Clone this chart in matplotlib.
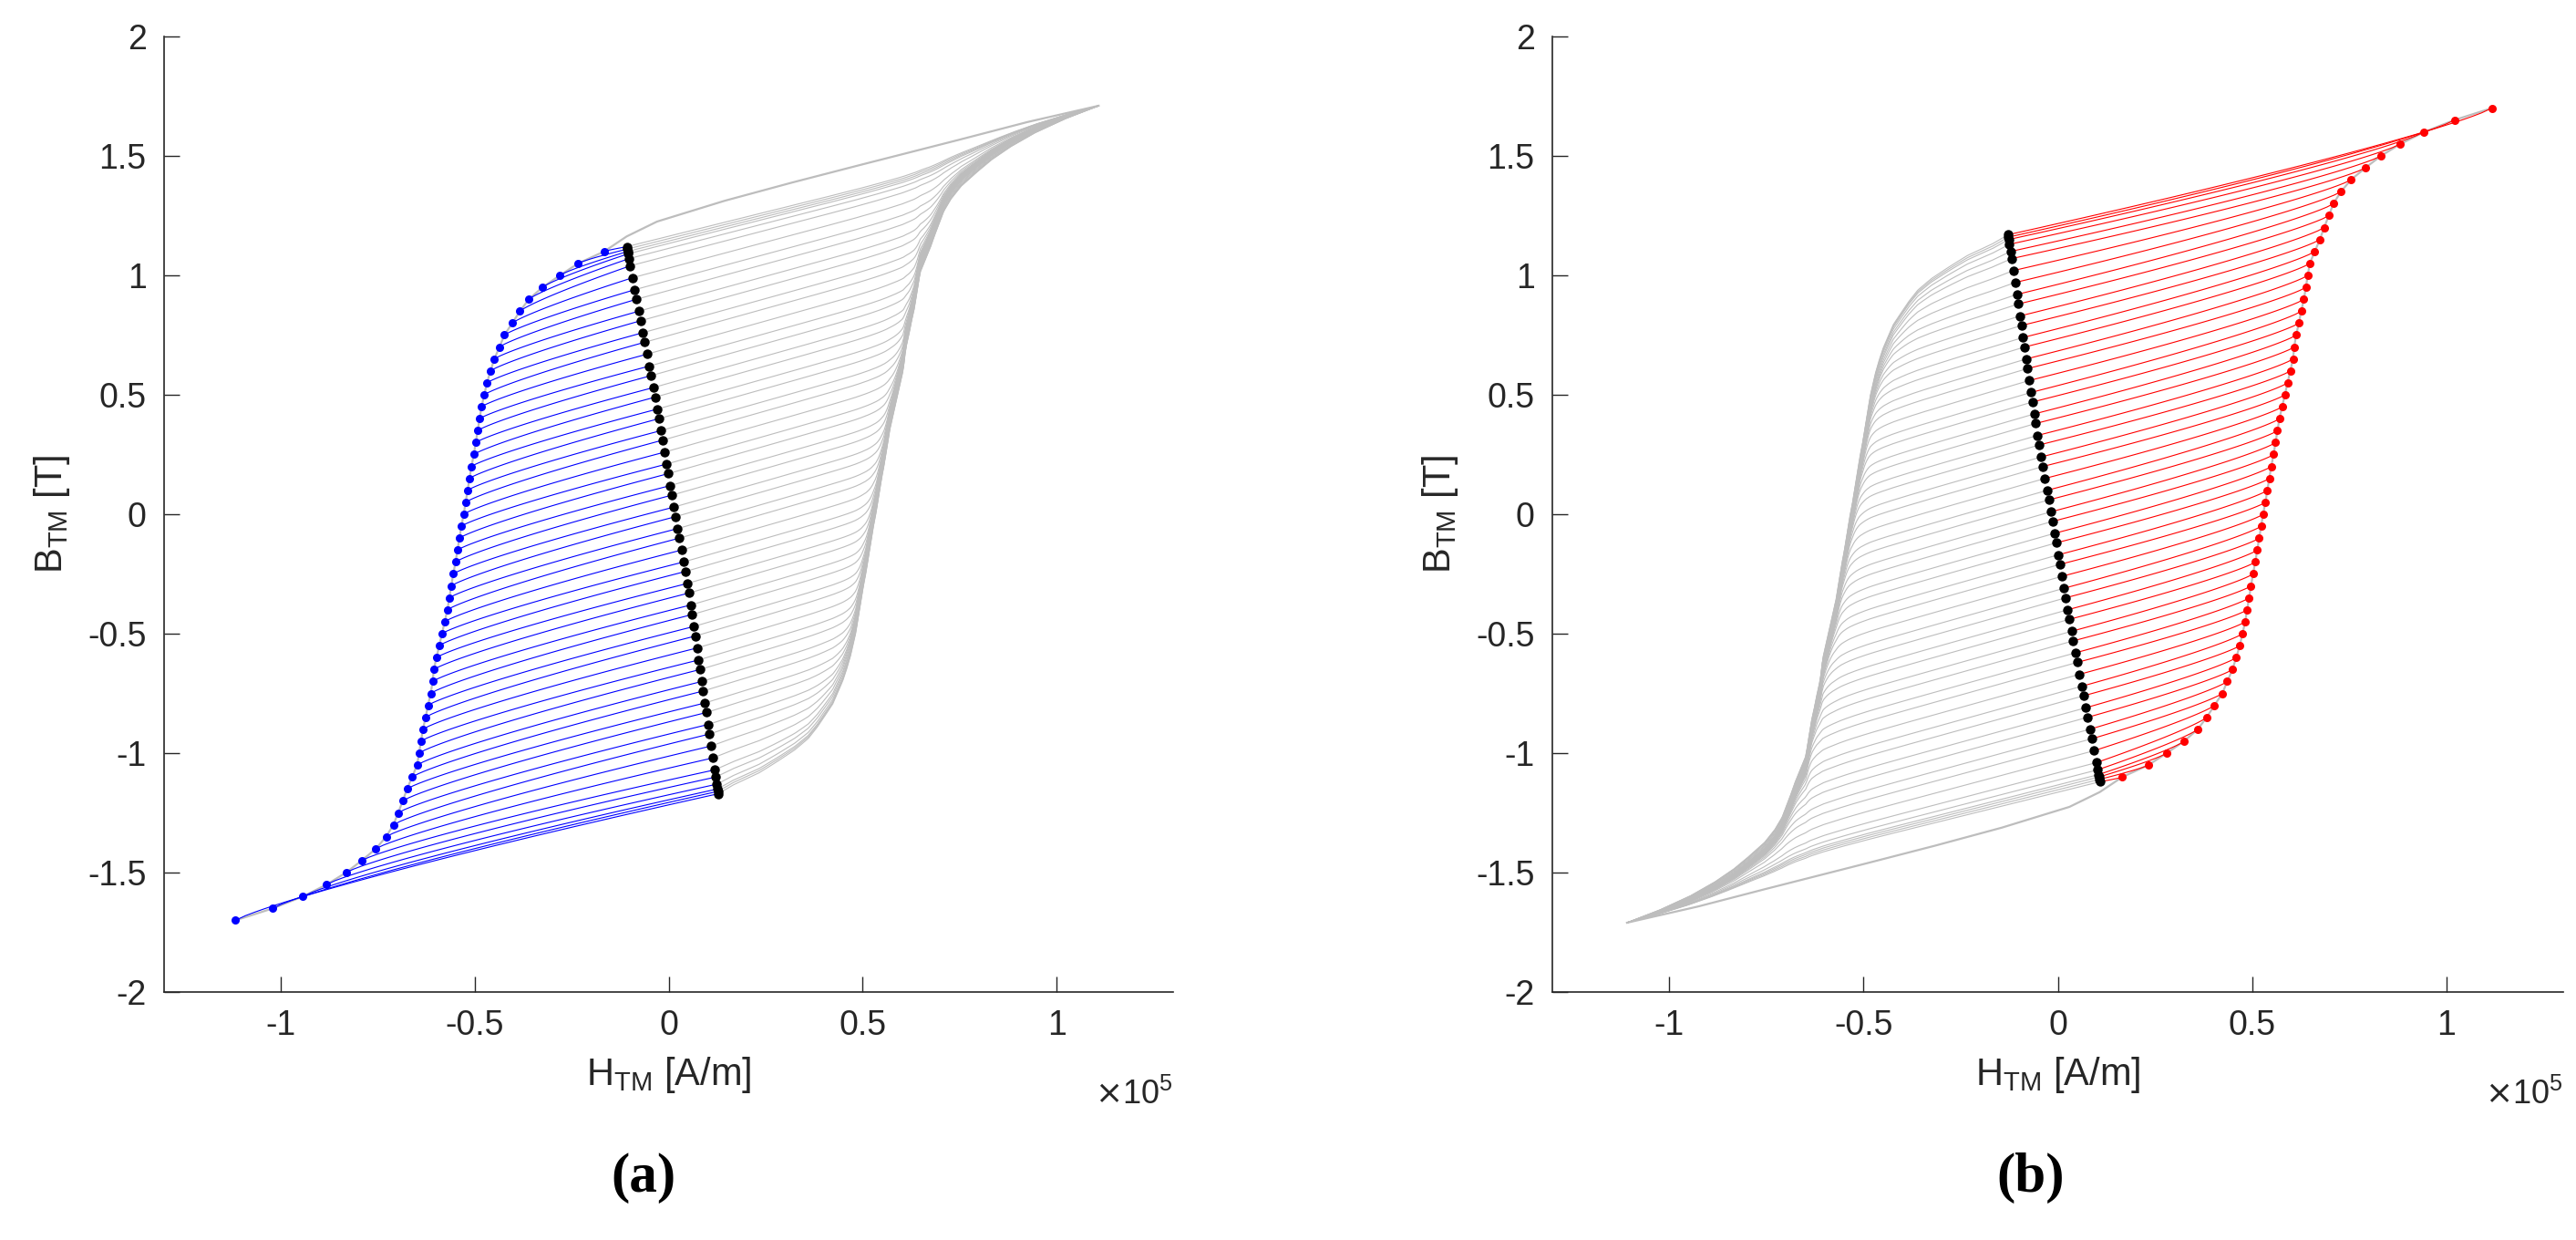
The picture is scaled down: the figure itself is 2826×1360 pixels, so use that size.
import numpy as np
import matplotlib.pyplot as plt

# Reversal points on the descending major branch (blue dots), H in 1e5 A/m, B in T
rev_B = [1.10, 1.05, 1.00, 0.95, 0.90, 0.85, 0.80, 0.75, 0.70, 0.65, 0.60, 0.55,
         0.50, 0.45, 0.40, 0.35, 0.30, 0.25, 0.20, 0.15, 0.10, 0.05, 0.00, -0.05,
         -0.10, -0.15, -0.20, -0.25, -0.30, -0.35, -0.40, -0.45, -0.50, -0.55,
         -0.60, -0.65, -0.70, -0.75, -0.80, -0.85, -0.90, -0.95, -1.00, -1.05,
         -1.10, -1.15, -1.20, -1.25, -1.30, -1.35, -1.40, -1.45, -1.50, -1.55,
         -1.60, -1.65, -1.70]
rev_H = [-0.166, -0.233, -0.280, -0.325, -0.360, -0.383, -0.403, -0.423, -0.436,
         -0.449, -0.459, -0.468, -0.475, -0.482, -0.487, -0.492, -0.497, -0.502,
         -0.508, -0.513, -0.518, -0.523, -0.528, -0.534, -0.539, -0.544, -0.549,
         -0.555, -0.560, -0.565, -0.570, -0.577, -0.584, -0.591, -0.598, -0.605,
         -0.608, -0.613, -0.620, -0.626, -0.633, -0.638, -0.643, -0.648, -0.661,
         -0.674, -0.685, -0.697, -0.709, -0.728, -0.754, -0.791, -0.831, -0.881,
         -0.942, -1.020, -1.116]

# End points of the blue segments (black dots)
end_B = [1.12, 1.11, 1.10, 1.09, 1.07, 1.04,
         0.99, 0.94, 0.90, 0.85, 0.81, 0.76, 0.72, 0.67, 0.62, 0.58, 0.53, 0.49,
         0.44, 0.40, 0.35, 0.31, 0.26, 0.21, 0.17, 0.12, 0.08, 0.03, -0.01, -0.06,
         -0.10, -0.15, -0.20, -0.24, -0.29, -0.33, -0.38, -0.42, -0.47, -0.51,
         -0.56, -0.61, -0.65, -0.70, -0.74, -0.79, -0.83, -0.88, -0.92, -0.97, -1.02,
         -1.07, -1.10, -1.13, -1.15, -1.16, -1.17]
end_line_B = [1.12, 0.445, -0.34, -1.17]
end_line_H = [-0.108, -0.030, 0.053, 0.128]

# Upper part of the descending major branch (from the tip down to the first reversal)
top_H = [1.108, 0.925, 0.752, 0.491, 0.317, 0.144, -0.030, -0.108, -0.166]
top_B = [1.710, 1.642, 1.569, 1.461, 1.388, 1.312, 1.225, 1.163, 1.100]

tip_H, tip_B = 1.108, 1.71
recoil_slope = 0.45  # T per 1e5 A/m, slope of the minor curves

rev_H = np.array(rev_H)
rev_B = np.array(rev_B)
end_B = np.array(end_B)
end_H = np.interp(end_B, end_line_B[::-1], end_line_H[::-1])

# descending branch, then the ascending one by symmetry
desc_H = np.concatenate([top_H, rev_H[1:]])
desc_B = np.concatenate([top_B, rev_B[1:]])
asc_H = -desc_H
asc_B = -desc_B

gray = (0.74, 0.74, 0.74)


def draw_panel(ax, sign, color):
    # gray reversal curves, black dot to tip
    for hk, bk in zip(end_H, end_B):
        h = np.linspace(hk, tip_H, 300)
        s = (h - hk) / (tip_H - hk)
        line = bk + recoil_slope * (h - hk)
        major = np.interp(h, asc_H, asc_B)
        b = 0.5 * (line + major + np.sqrt((line - major) ** 2 + 0.03))
        b = b - (1 - s) * (b[0] - bk) + s * (tip_B - b[-1])
        ax.plot(sign * h, sign * b, color=gray, lw=0.8)
    # descending major branch
    ax.plot(sign * desc_H, sign * desc_B, color=gray, lw=1.6)
    # coloured segments from reversal point to black dot
    for hb, bb, hk, bk in zip(rev_H, rev_B, end_H, end_B):
        s = np.linspace(0, 1, 50)
        h = hb + (hk - hb) * s
        b = bb + (bk - bb) * s ** 0.85
        ax.plot(sign * h, sign * b, color=color, lw=0.8)
    ax.plot(sign * rev_H, sign * rev_B, 'o', color=color, ms=6.5, mec='none')
    ax.plot(sign * end_H, sign * end_B, 'o', color='black', ms=7.5, mec='none')

    ax.set_xlim(-1.3, 1.3)
    ax.set_ylim(-2, 2)
    ax.set_xticks([-1, -0.5, 0, 0.5, 1])
    ax.set_xticklabels(['-1', '-0.5', '0', '0.5', '1'])
    ax.set_yticks([-2, -1.5, -1, -0.5, 0, 0.5, 1, 1.5, 2])
    ax.set_yticklabels(['-2', '-1.5', '-1', '-0.5', '0', '0.5', '1', '1.5', '2'])
    for sp in ['top', 'right']:
        ax.spines[sp].set_visible(False)
    for sp in ['left', 'bottom']:
        ax.spines[sp].set_color('#262626')
        ax.spines[sp].set_linewidth(1.2)
    ax.tick_params(direction='in', length=12, width=1.0, labelsize=27,
                   colors='#262626', pad=14)
    ax.set_xlabel(r'H$_{\mathregular{TM}}$ [A/m]', fontsize=30, color='#262626', labelpad=10)
    ax.set_ylabel(r'B$_{\mathregular{TM}}$ [T]', fontsize=30, color='#262626', labelpad=12)
    ax.text(1.0, -0.09, r'$\times$10$^{\mathregular{5}}$', transform=ax.transAxes,
            ha='right', va='top', fontsize=26, color='#262626')


plt.rcParams['font.family'] = ['Liberation Sans', 'DejaVu Sans']
fig = plt.figure(figsize=(28.26, 13.6), dpi=100)
ax1 = fig.add_axes([180 / 2826, 0.2, 1107 / 2826, 1048 / 1360])
ax2 = fig.add_axes([1703 / 2826, 0.2, 1109 / 2826, 1048 / 1360])
draw_panel(ax1, 1, (0, 0, 1))
draw_panel(ax2, -1, (1, 0, 0))

fig.text(706 / 2826, 1 - 1292 / 1360, '(a)', ha='center', va='center', fontsize=44,
         family='Liberation Serif', weight='bold')
fig.text(2228 / 2826, 1 - 1292 / 1360, '(b)', ha='center', va='center', fontsize=44,
         family='Liberation Serif', weight='bold')

fig.savefig('out.png', dpi=100)
